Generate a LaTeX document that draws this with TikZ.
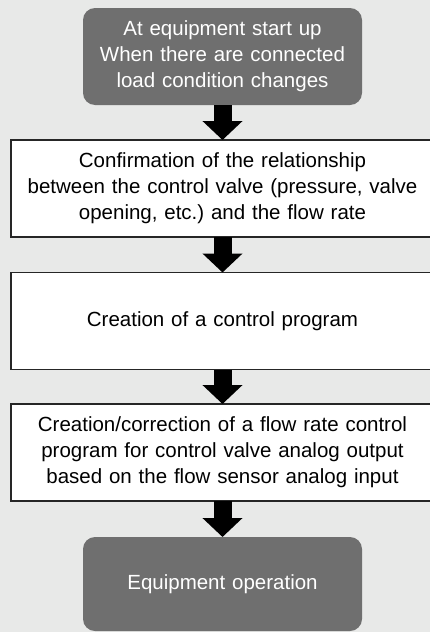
\documentclass[tikz,border=0pt]{standalone}
\usepackage{fontspec}
\setmainfont{Liberation Sans}
\usetikzlibrary{arrows.meta}
\usetikzlibrary{positioning}
\frenchspacing

\definecolor{pagegray}{RGB}{232,233,232}
\definecolor{termgray}{RGB}{111,111,111}

\begin{document}
\begin{tikzpicture}[x=1pt, y=1pt, font=\fontsize{20.5}{26}\selectfont]
    \tikzstyle{term}=[fill=termgray, text=white, rounded corners=12pt,
      minimum width=279pt, text width=279pt, align=center, inner sep=0pt, outer sep=0pt]
    \tikzstyle{stepbox}=[draw=black!85, line width=1.2pt, fill=white,
      minimum width=423pt, minimum height=97pt, text width=415pt,
      align=center, inner sep=0pt, outer sep=0pt]
    \tikzstyle{flow}=[line width=18pt, -{Triangle[width=39pt, length=19pt]}]
    \fill[pagegray] (0,0) rectangle (430,-632);
    \useasboundingbox (0,0) rectangle (430,-632);
    \node[term, minimum height=97pt] (start) at (222.5,-56.5)
      {At equipment start up\\When there are connected\\load condition changes};
    \node[stepbox] (confirm) at (222.5,-188.5)
      {Confirmation of the relationship\\between the control valve (pressure, valve\\opening, etc.) and the flow rate};
    \node[stepbox] (create) at (222.5,-321)
      {Creation of a control program};
    \node[stepbox] (correct) at (222.5,-452.5)
      {Creation/correction of a flow rate control\\program for control valve analog output\\based on the flow sensor analog input};
    \node[term, minimum height=94pt] (operate) at (222.5,-584)
      {Equipment operation};
    \draw[flow] (start.south) -- (confirm.north);
    \draw[flow] (confirm.south) -- (create.north);
    \draw[flow] (create.south) -- (correct.north);
    \draw[flow] (correct.south) -- (operate.north);
  \end{tikzpicture}
\end{document}
